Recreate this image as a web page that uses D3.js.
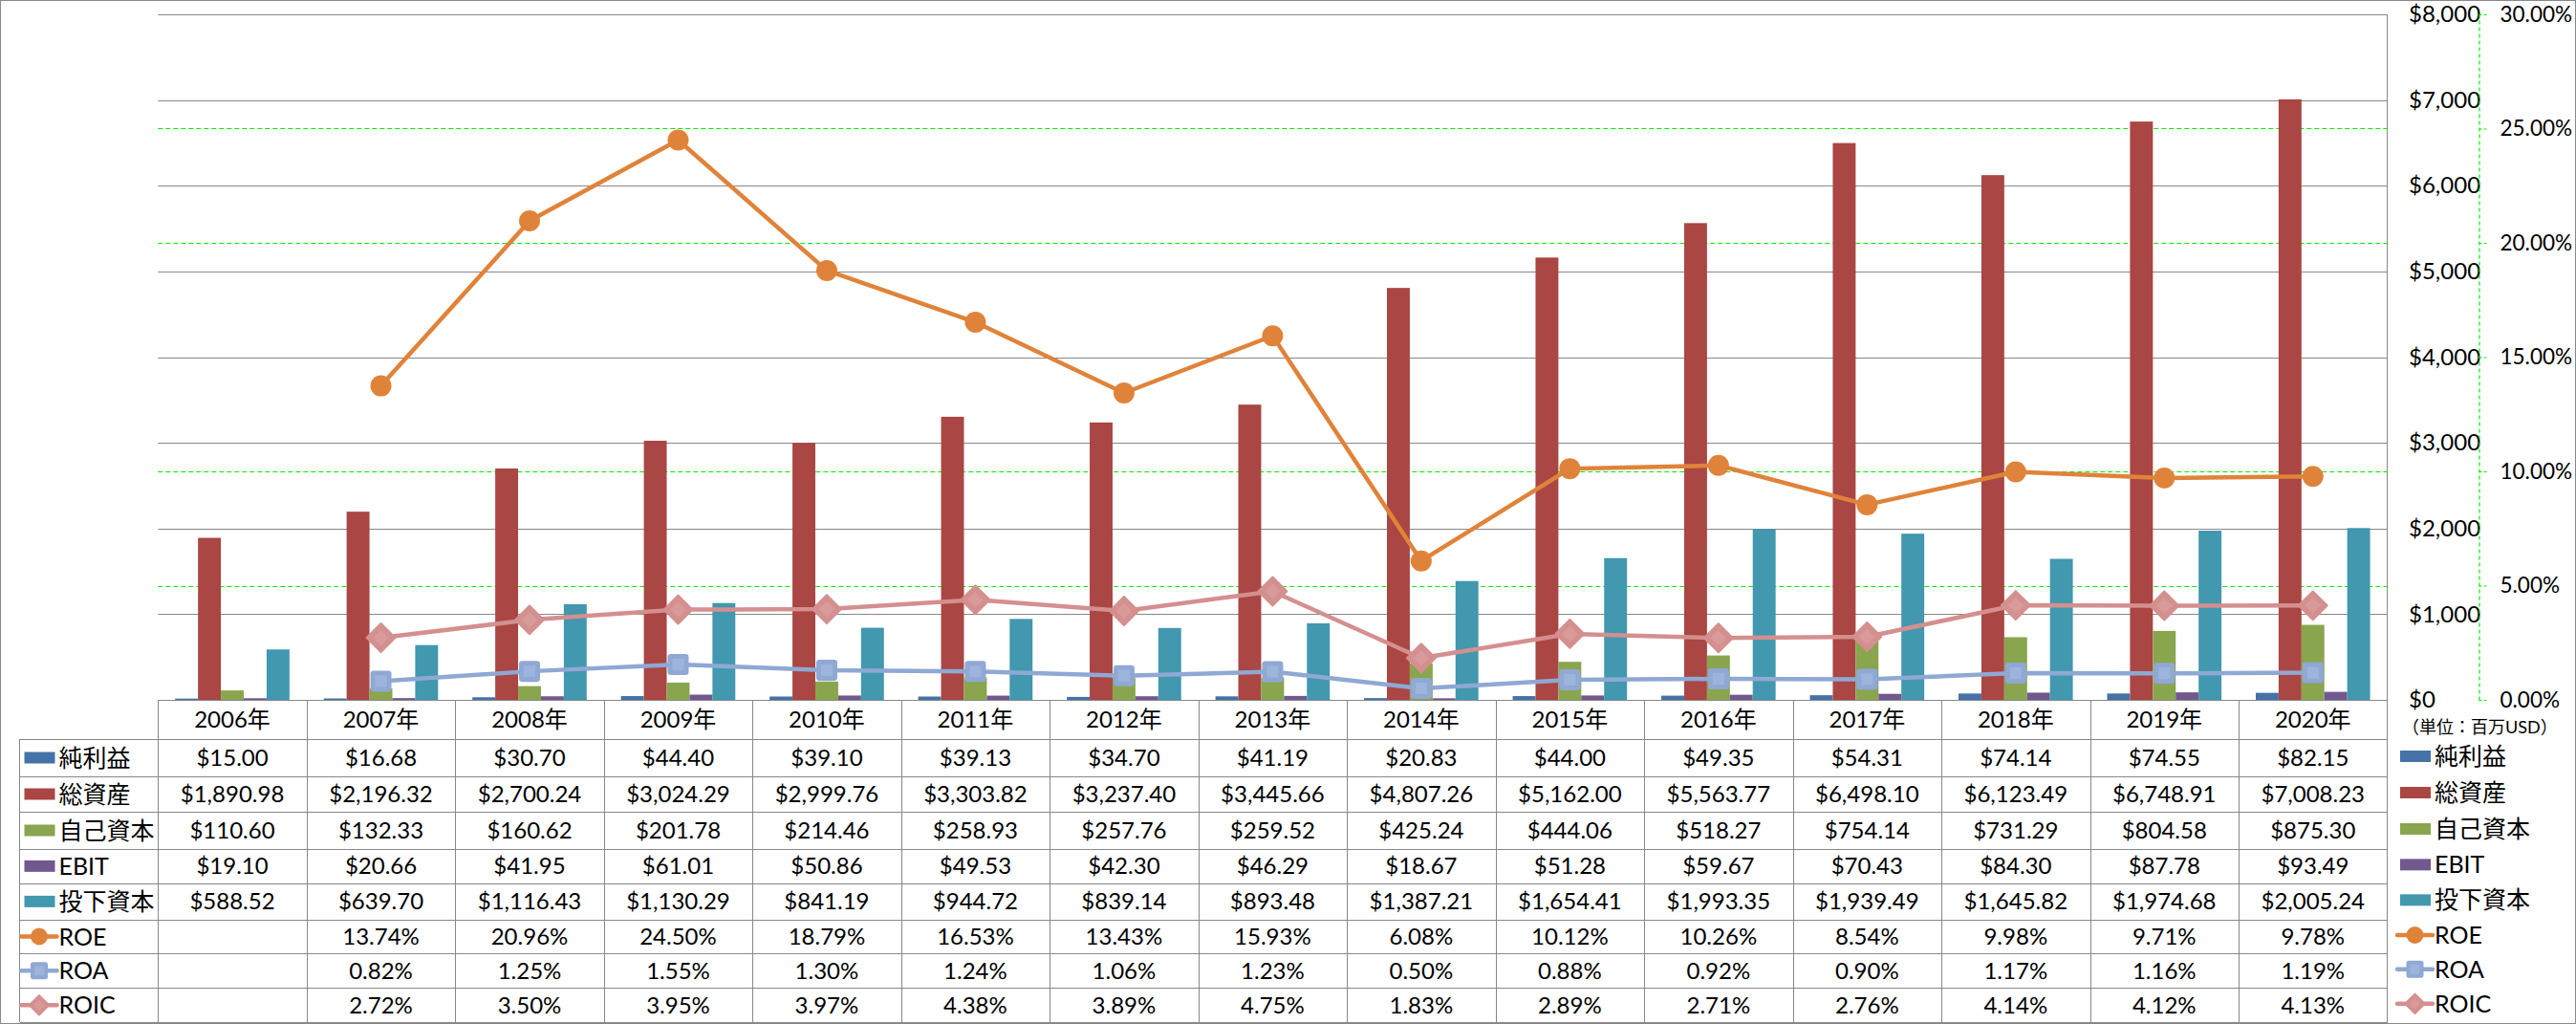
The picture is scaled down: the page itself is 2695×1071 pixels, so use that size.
<!DOCTYPE html>
<html>
<head>
<meta charset="utf-8">
<script src="https://cdn.jsdelivr.net/npm/d3@7"></script>
<style>
  html, body { margin: 0; padding: 0; background: #fff; }
  svg { display: block; }
  text { font-family: Lato, "Noto Sans CJK JP", sans-serif; fill: #000; }
</style>
</head>
<body>
<svg id="chart" width="2695" height="1071"></svg>
<script>
// ---------------- DATA ----------------
const years = ["2006年","2007年","2008年","2009年","2010年","2011年","2012年","2013年","2014年","2015年","2016年","2017年","2018年","2019年","2020年"];
const netIncome = [15.00,16.68,30.70,44.40,39.10,39.13,34.70,41.19,20.83,44.00,49.35,54.31,74.14,74.55,82.15];
const totalAssets = [1890.98,2196.32,2700.24,3024.29,2999.76,3303.82,3237.40,3445.66,4807.26,5162.00,5563.77,6498.10,6123.49,6748.91,7008.23];
const equity = [110.60,132.33,160.62,201.78,214.46,258.93,257.76,259.52,425.24,444.06,518.27,754.14,731.29,804.58,875.30];
const ebit = [19.10,20.66,41.95,61.01,50.86,49.53,42.30,46.29,18.67,51.28,59.67,70.43,84.30,87.78,93.49];
const investedCapital = [588.52,639.70,1116.43,1130.29,841.19,944.72,839.14,893.48,1387.21,1654.41,1993.35,1939.49,1645.82,1974.68,2005.24];
const roe = [null,13.74,20.96,24.50,18.79,16.53,13.43,15.93,6.08,10.12,10.26,8.54,9.98,9.71,9.78];
const roa = [null,0.82,1.25,1.55,1.30,1.24,1.06,1.23,0.50,0.88,0.92,0.90,1.17,1.16,1.19];
const roic = [null,2.72,3.50,3.95,3.97,4.38,3.89,4.75,1.83,2.89,2.71,2.76,4.14,4.12,4.13];
const barNames = ["純利益","総資産","自己資本","EBIT","投下資本"];
const lineNames = ["ROE","ROA","ROIC"];
const dollarTicks = [0,1000,2000,3000,4000,5000,6000,7000,8000];
const pctTicks = [0,5,10,15,20,25,30];
const unitLabel = "（単位：百万USD）";

// ---------------- STYLE / LAYOUT ----------------
const barColors = ["#4572A7","#AA4643","#89A54E","#71588F","#4198AF"];
const lineColors = ["#E0833A","#8FA8D4","#D48F8F"];
const grid = "#888888";
const green = "#00EE00";
const plotL = 165.3, plotR = 2497.5, plotT = 15, plotB = 732;
const rowY = [732, 773.3, 811.7, 849.3, 887.7, 924, 961.7, 997.3, 1033.3, 1069.3];
const legendL = 20.5;
const FS = 24, FS_LEG = 25, FS_PCT = 22.5;

const barSeries = [netIncome, totalAssets, equity, ebit, investedCapital];
const lineSeries = [roe, roa, roic];

const svg = d3.select("#chart");

// outer frame
svg.append("rect").attr("x",0.5).attr("y",0.5).attr("width",2694).attr("height",1070)
  .attr("fill","none").attr("stroke",grid).attr("stroke-width",1);

// scales
const x = d3.scaleBand().domain(years).range([plotL, plotR]).padding(0);
const xb = d3.scaleBand().domain(d3.range(5)).range([0, x.bandwidth()]).paddingInner(0).paddingOuter(0.75);
const yL = d3.scaleLinear().domain([0, 8000]).range([plotB, plotT]);
const yR = d3.scaleLinear().domain([0, 30]).range([plotB, plotT]);

// secondary green dashed gridlines
svg.append("g").selectAll("line").data(pctTicks.filter(d => d > 0 && d < 30)).join("line")
  .attr("x1", plotL).attr("x2", plotR)
  .attr("y1", d => Math.round(yR(d)) + 0.5).attr("y2", d => Math.round(yR(d)) + 0.5)
  .attr("stroke", green).attr("stroke-width", 1.2).attr("stroke-dasharray", "5,3");

// primary gray gridlines
svg.append("g").selectAll("line").data(dollarTicks.filter(d => d > 0)).join("line")
  .attr("x1", plotL).attr("x2", plotR)
  .attr("y1", d => Math.round(yL(d)) + 0.5).attr("y2", d => Math.round(yL(d)) + 0.5)
  .attr("stroke", grid).attr("stroke-width", 1);

// bars
barSeries.forEach((vals, si) => {
  svg.append("g").selectAll("rect").data(vals).join("rect")
    .attr("x", (d, i) => x(years[i]) + xb(si))
    .attr("width", xb.bandwidth())
    .attr("y", d => yL(d))
    .attr("height", d => plotB - yL(d))
    .attr("fill", barColors[si]);
});

// markers
function drawMarker(g, type, cx, cy, s, color) {
  if (type === 0) {
    g.append("circle").attr("cx", cx).attr("cy", cy).attr("r", s).attr("fill", color);
  } else if (type === 1) {
    g.append("rect").attr("x", cx - s).attr("y", cy - s).attr("width", 2*s).attr("height", 2*s)
      .attr("rx", s*0.3).attr("fill", color);
    g.append("rect").attr("x", cx - s*0.55).attr("y", cy - s*0.55).attr("width", 1.1*s).attr("height", 1.1*s)
      .attr("fill", "#9DB4DC");
  } else {
    const d = s*1.36;
    g.append("path").attr("d", `M${cx},${cy-d}L${cx+d},${cy}L${cx},${cy+d}L${cx-d},${cy}Z`)
      .attr("fill", color).attr("stroke", color).attr("stroke-width", 2).attr("stroke-linejoin","round");
    g.append("path").attr("d", `M${cx},${cy-d*0.55}L${cx+d*0.55},${cy}L${cx},${cy+d*0.55}L${cx-d*0.55},${cy}Z`)
      .attr("fill", "#D99A9A");
  }
}

// lines
lineSeries.forEach((vals, li) => {
  const pts = vals.map((v, i) => [x(years[i]) + x.bandwidth()/2, v]).filter(p => p[1] !== null);
  const line = d3.line().x(p => p[0]).y(p => yR(p[1]));
  const g = svg.append("g");
  g.append("path").datum(pts).attr("d", line).attr("fill", "none")
    .attr("stroke", lineColors[li]).attr("stroke-width", 4.5).attr("stroke-linejoin", "round");
  pts.forEach(p => drawMarker(g, li, p[0], yR(p[1]), 11, lineColors[li]));
});

// plot right border
svg.append("line").attr("x1", plotR).attr("x2", plotR).attr("y1", plotT).attr("y2", rowY[9])
  .attr("stroke", grid).attr("stroke-width", 1);

// primary axis labels (left-aligned at right side)
const axL = d3.axisRight(yL).tickValues(dollarTicks).tickSize(0).tickPadding(0)
  .tickFormat(d3.format("$,"));
const gL = svg.append("g").attr("transform", "translate(2520,0)").call(axL);
gL.select(".domain").remove();
gL.selectAll("text").attr("font-size", FS).attr("font-family", "Lato, sans-serif").attr("fill", "#000");

// secondary axis (green dashed)
const axR = d3.axisRight(yR).tickValues(pctTicks).tickSize(8).tickSizeOuter(0).tickPadding(14)
  .tickFormat(d => d3.format(".2f")(d) + "%");
const gR = svg.append("g").attr("transform", "translate(2593.5,0)").call(axR);
gR.select(".domain").attr("stroke", green).attr("stroke-width", 1.2).attr("stroke-dasharray", "4,3");
gR.selectAll(".tick line").attr("stroke", green).attr("stroke-width", 1.2).attr("stroke-dasharray", "3,2");
gR.selectAll("text").attr("font-size", FS_PCT).attr("font-family", "Lato, sans-serif").attr("fill", "#000");

svg.append("text").attr("x", 2513).attr("y", 761).attr("dy", "0.35em")
  .attr("font-size", 18).attr("font-family", "'Noto Sans CJK JP', sans-serif").text(unitLabel);

// ---------------- DATA TABLE ----------------
const tg = svg.append("g").attr("shape-rendering", "crispEdges");
rowY.forEach((yy, i) => {
  tg.append("line").attr("x1", i === 0 ? plotL : legendL).attr("x2", plotR)
    .attr("y1", Math.round(yy) + 0.5).attr("y2", Math.round(yy) + 0.5).attr("stroke", grid);
});
years.forEach(yv => {
  tg.append("line").attr("x1", Math.round(x(yv)) + 0.5).attr("x2", Math.round(x(yv)) + 0.5)
    .attr("y1", rowY[0]).attr("y2", rowY[9]).attr("stroke", grid);
});
tg.append("line").attr("x1", legendL).attr("x2", legendL).attr("y1", rowY[1]).attr("y2", rowY[9]).attr("stroke", grid);

// header
svg.append("g").selectAll("text").data(years).join("text")
  .attr("x", d => x(d) + x.bandwidth()/2).attr("y", (rowY[0] + rowY[1]) / 2).attr("dy", "0.35em")
  .attr("text-anchor", "middle").attr("font-size", FS).text(d => d);

const fmtD = d3.format("$,.2f");
const fmtP = v => v === null ? "" : d3.format(".2f")(v) + "%";
const allRows = barSeries.map(s => s.map(fmtD)).concat(lineSeries.map(s => s.map(fmtP)));
allRows.forEach((vals, ri) => {
  const cy = (rowY[ri + 1] + rowY[ri + 2]) / 2;
  svg.append("g").selectAll("text").data(vals).join("text")
    .attr("x", (d, i) => x(years[i]) + x.bandwidth()/2).attr("y", cy).attr("dy", "0.35em")
    .attr("text-anchor", "middle").attr("font-size", FS).text(d => d);
});

// legend keys (in table and on right)
const names = barNames.concat(lineNames);
function legendItem(x0, cy, i) {
  const g = svg.append("g");
  if (i < 5) {
    g.append("rect").attr("x", x0 + 3).attr("y", cy - 6).attr("width", 32).attr("height", 12).attr("fill", barColors[i]);
  } else {
    const li = i - 5;
    g.append("line").attr("x1", x0).attr("x2", x0 + 37).attr("y1", cy).attr("y2", cy)
      .attr("stroke", lineColors[li]).attr("stroke-width", 4.5).attr("stroke-linecap", "round");
    drawMarker(g, li, x0 + 18.5, cy, li === 2 ? 7.5 : 9, lineColors[li]);
  }
  g.append("text").attr("x", x0 + 39).attr("y", cy).attr("dy", "0.36em").attr("font-size", FS_LEG).text(names[i]);
}
names.forEach((n, i) => {
  const cy = (rowY[i + 1] + rowY[i + 2]) / 2;
  legendItem(22.5, cy, i);
  legendItem(2508, cy - 1.5, i);
});
</script>
</body>
</html>
